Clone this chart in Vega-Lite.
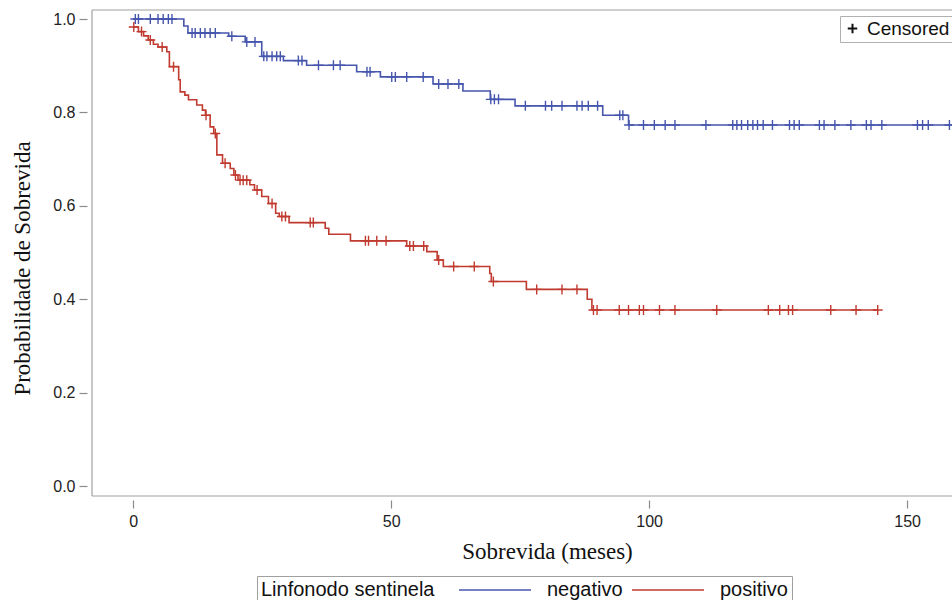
{
  "$schema": "https://vega.github.io/schema/vega-lite/v6.json",
  "width": 860,
  "height": 486,
  "autosize": {"type": "none"},
  "padding": {"left": 92, "top": 10, "right": 0, "bottom": 104},
  "background": "white",
  "config": {
    "font": "Liberation Sans",
    "view": {"stroke": null}
  },
  "datasets": {
    "frame": [{"edge": "frame"}],
    "steps": [
      {"group": "negativo", "t": 0, "s": 1},
      {"group": "negativo", "t": 9.8, "s": 0.985},
      {"group": "negativo", "t": 10.6, "s": 0.97},
      {"group": "negativo", "t": 18.5, "s": 0.963},
      {"group": "negativo", "t": 21.7, "s": 0.951},
      {"group": "negativo", "t": 24.9, "s": 0.92},
      {"group": "negativo", "t": 29.1, "s": 0.911},
      {"group": "negativo", "t": 33.6, "s": 0.901},
      {"group": "negativo", "t": 43.3, "s": 0.887},
      {"group": "negativo", "t": 47.9, "s": 0.876},
      {"group": "negativo", "t": 58.1, "s": 0.861},
      {"group": "negativo", "t": 63.9, "s": 0.846},
      {"group": "negativo", "t": 69.2, "s": 0.828},
      {"group": "negativo", "t": 74.0, "s": 0.814},
      {"group": "negativo", "t": 91.0, "s": 0.794},
      {"group": "negativo", "t": 96.0, "s": 0.773},
      {"group": "negativo", "t": 165, "s": 0.773},
      {"group": "positivo", "t": 0, "s": 0.983},
      {"group": "positivo", "t": 1.0, "s": 0.973},
      {"group": "positivo", "t": 2.0, "s": 0.964},
      {"group": "positivo", "t": 2.9, "s": 0.955},
      {"group": "positivo", "t": 3.9, "s": 0.946},
      {"group": "positivo", "t": 4.8, "s": 0.94},
      {"group": "positivo", "t": 6.5, "s": 0.93},
      {"group": "positivo", "t": 7.0, "s": 0.898},
      {"group": "positivo", "t": 8.8, "s": 0.87},
      {"group": "positivo", "t": 9.1, "s": 0.844},
      {"group": "positivo", "t": 10.0, "s": 0.837},
      {"group": "positivo", "t": 10.7, "s": 0.827},
      {"group": "positivo", "t": 12.3, "s": 0.816},
      {"group": "positivo", "t": 13.4, "s": 0.805},
      {"group": "positivo", "t": 14.0, "s": 0.794},
      {"group": "positivo", "t": 14.9, "s": 0.769},
      {"group": "positivo", "t": 15.6, "s": 0.755},
      {"group": "positivo", "t": 16.2, "s": 0.709},
      {"group": "positivo", "t": 17.3, "s": 0.691},
      {"group": "positivo", "t": 18.8, "s": 0.68},
      {"group": "positivo", "t": 19.5, "s": 0.666},
      {"group": "positivo", "t": 20.3, "s": 0.655},
      {"group": "positivo", "t": 22.6, "s": 0.645},
      {"group": "positivo", "t": 23.5, "s": 0.634},
      {"group": "positivo", "t": 24.9, "s": 0.62},
      {"group": "positivo", "t": 26.2, "s": 0.605},
      {"group": "positivo", "t": 27.6, "s": 0.584},
      {"group": "positivo", "t": 28.3, "s": 0.577},
      {"group": "positivo", "t": 30.2, "s": 0.564},
      {"group": "positivo", "t": 37.2, "s": 0.552},
      {"group": "positivo", "t": 37.9, "s": 0.539},
      {"group": "positivo", "t": 42.1, "s": 0.525},
      {"group": "positivo", "t": 53.0, "s": 0.514},
      {"group": "positivo", "t": 56.9, "s": 0.502},
      {"group": "positivo", "t": 58.9, "s": 0.484},
      {"group": "positivo", "t": 60.1, "s": 0.47},
      {"group": "positivo", "t": 69.1, "s": 0.455},
      {"group": "positivo", "t": 69.4, "s": 0.438},
      {"group": "positivo", "t": 76.2, "s": 0.421},
      {"group": "positivo", "t": 88.0, "s": 0.4},
      {"group": "positivo", "t": 88.9, "s": 0.377},
      {"group": "positivo", "t": 144.3, "s": 0.377}
    ],
    "censored": [
      {"group": "negativo", "t": 0.4, "s": 1},
      {"group": "negativo", "t": 1.0, "s": 1},
      {"group": "negativo", "t": 3.3, "s": 1},
      {"group": "negativo", "t": 4.8, "s": 1},
      {"group": "negativo", "t": 5.8, "s": 1},
      {"group": "negativo", "t": 6.8, "s": 1},
      {"group": "negativo", "t": 7.5, "s": 1},
      {"group": "negativo", "t": 11.4, "s": 0.97},
      {"group": "negativo", "t": 12.0, "s": 0.97},
      {"group": "negativo", "t": 13.0, "s": 0.97},
      {"group": "negativo", "t": 13.9, "s": 0.97},
      {"group": "negativo", "t": 14.9, "s": 0.97},
      {"group": "negativo", "t": 15.9, "s": 0.97},
      {"group": "negativo", "t": 19.1, "s": 0.963},
      {"group": "negativo", "t": 22.0, "s": 0.951},
      {"group": "negativo", "t": 23.6, "s": 0.951},
      {"group": "negativo", "t": 25.3, "s": 0.92},
      {"group": "negativo", "t": 25.9, "s": 0.92},
      {"group": "negativo", "t": 26.9, "s": 0.92},
      {"group": "negativo", "t": 27.8, "s": 0.92},
      {"group": "negativo", "t": 28.5, "s": 0.92},
      {"group": "negativo", "t": 32.0, "s": 0.911},
      {"group": "negativo", "t": 32.7, "s": 0.911},
      {"group": "negativo", "t": 35.9, "s": 0.901},
      {"group": "negativo", "t": 38.8, "s": 0.901},
      {"group": "negativo", "t": 40.1, "s": 0.901},
      {"group": "negativo", "t": 45.3, "s": 0.887},
      {"group": "negativo", "t": 45.9, "s": 0.887},
      {"group": "negativo", "t": 50.1, "s": 0.876},
      {"group": "negativo", "t": 50.8, "s": 0.876},
      {"group": "negativo", "t": 53.0, "s": 0.876},
      {"group": "negativo", "t": 56.2, "s": 0.876},
      {"group": "negativo", "t": 59.2, "s": 0.861},
      {"group": "negativo", "t": 61.0, "s": 0.861},
      {"group": "negativo", "t": 63.1, "s": 0.861},
      {"group": "negativo", "t": 69.3, "s": 0.828},
      {"group": "negativo", "t": 70.0, "s": 0.828},
      {"group": "negativo", "t": 70.8, "s": 0.828},
      {"group": "negativo", "t": 76.0, "s": 0.814},
      {"group": "negativo", "t": 79.9, "s": 0.814},
      {"group": "negativo", "t": 81.1, "s": 0.814},
      {"group": "negativo", "t": 83.1, "s": 0.814},
      {"group": "negativo", "t": 86.0, "s": 0.814},
      {"group": "negativo", "t": 87.0, "s": 0.814},
      {"group": "negativo", "t": 88.2, "s": 0.814},
      {"group": "negativo", "t": 90.0, "s": 0.814},
      {"group": "negativo", "t": 94.3, "s": 0.794},
      {"group": "negativo", "t": 94.9, "s": 0.794},
      {"group": "negativo", "t": 96.1, "s": 0.773},
      {"group": "negativo", "t": 98.9, "s": 0.773},
      {"group": "negativo", "t": 101.0, "s": 0.773},
      {"group": "negativo", "t": 103.1, "s": 0.773},
      {"group": "negativo", "t": 105.0, "s": 0.773},
      {"group": "negativo", "t": 111.0, "s": 0.773},
      {"group": "negativo", "t": 116.2, "s": 0.773},
      {"group": "negativo", "t": 117.0, "s": 0.773},
      {"group": "negativo", "t": 117.9, "s": 0.773},
      {"group": "negativo", "t": 119.1, "s": 0.773},
      {"group": "negativo", "t": 120.1, "s": 0.773},
      {"group": "negativo", "t": 121.0, "s": 0.773},
      {"group": "negativo", "t": 122.1, "s": 0.773},
      {"group": "negativo", "t": 123.9, "s": 0.773},
      {"group": "negativo", "t": 127.2, "s": 0.773},
      {"group": "negativo", "t": 128.1, "s": 0.773},
      {"group": "negativo", "t": 129.1, "s": 0.773},
      {"group": "negativo", "t": 133.0, "s": 0.773},
      {"group": "negativo", "t": 133.9, "s": 0.773},
      {"group": "negativo", "t": 136.0, "s": 0.773},
      {"group": "negativo", "t": 139.1, "s": 0.773},
      {"group": "negativo", "t": 142.1, "s": 0.773},
      {"group": "negativo", "t": 143.0, "s": 0.773},
      {"group": "negativo", "t": 145.1, "s": 0.773},
      {"group": "negativo", "t": 152.0, "s": 0.773},
      {"group": "negativo", "t": 153.0, "s": 0.773},
      {"group": "negativo", "t": 154.1, "s": 0.773},
      {"group": "negativo", "t": 158.2, "s": 0.773},
      {"group": "positivo", "t": 0.1, "s": 0.983},
      {"group": "positivo", "t": 1.6, "s": 0.973},
      {"group": "positivo", "t": 3.3, "s": 0.955},
      {"group": "positivo", "t": 5.6, "s": 0.94},
      {"group": "positivo", "t": 7.8, "s": 0.898},
      {"group": "positivo", "t": 14.1, "s": 0.794},
      {"group": "positivo", "t": 15.9, "s": 0.755},
      {"group": "positivo", "t": 17.8, "s": 0.691},
      {"group": "positivo", "t": 19.8, "s": 0.666},
      {"group": "positivo", "t": 20.7, "s": 0.655},
      {"group": "positivo", "t": 21.3, "s": 0.655},
      {"group": "positivo", "t": 22.0, "s": 0.655},
      {"group": "positivo", "t": 24.0, "s": 0.634},
      {"group": "positivo", "t": 26.9, "s": 0.605},
      {"group": "positivo", "t": 28.8, "s": 0.577},
      {"group": "positivo", "t": 29.5, "s": 0.577},
      {"group": "positivo", "t": 34.3, "s": 0.564},
      {"group": "positivo", "t": 34.9, "s": 0.564},
      {"group": "positivo", "t": 45.0, "s": 0.525},
      {"group": "positivo", "t": 45.6, "s": 0.525},
      {"group": "positivo", "t": 47.2, "s": 0.525},
      {"group": "positivo", "t": 49.0, "s": 0.525},
      {"group": "positivo", "t": 53.6, "s": 0.514},
      {"group": "positivo", "t": 54.3, "s": 0.514},
      {"group": "positivo", "t": 56.3, "s": 0.514},
      {"group": "positivo", "t": 59.2, "s": 0.484},
      {"group": "positivo", "t": 62.1, "s": 0.47},
      {"group": "positivo", "t": 66.1, "s": 0.47},
      {"group": "positivo", "t": 69.8, "s": 0.438},
      {"group": "positivo", "t": 78.2, "s": 0.421},
      {"group": "positivo", "t": 83.1, "s": 0.421},
      {"group": "positivo", "t": 86.0, "s": 0.421},
      {"group": "positivo", "t": 89.2, "s": 0.377},
      {"group": "positivo", "t": 89.9, "s": 0.377},
      {"group": "positivo", "t": 94.2, "s": 0.377},
      {"group": "positivo", "t": 96.0, "s": 0.377},
      {"group": "positivo", "t": 98.1, "s": 0.377},
      {"group": "positivo", "t": 98.9, "s": 0.377},
      {"group": "positivo", "t": 102.0, "s": 0.377},
      {"group": "positivo", "t": 105.0, "s": 0.377},
      {"group": "positivo", "t": 113.1, "s": 0.377},
      {"group": "positivo", "t": 123.1, "s": 0.377},
      {"group": "positivo", "t": 125.3, "s": 0.377},
      {"group": "positivo", "t": 127.0, "s": 0.377},
      {"group": "positivo", "t": 127.8, "s": 0.377},
      {"group": "positivo", "t": 135.2, "s": 0.377},
      {"group": "positivo", "t": 140.1, "s": 0.377},
      {"group": "positivo", "t": 144.3, "s": 0.377}
    ]
  },
  "layer": [
    {
      "data": {"name": "frame"},
      "mark": {"type": "rule", "color": "#a0a0a0", "strokeWidth": 1.2},
      "encoding": {"y": {"datum": 1.0193, "type": "quantitative"}}
    },
    {
      "data": {"name": "frame"},
      "mark": {"type": "rule", "color": "#a0a0a0", "strokeWidth": 1.2},
      "encoding": {"y": {"datum": -0.0214, "type": "quantitative"}}
    },
    {
      "data": {"name": "frame"},
      "mark": {"type": "rule", "color": "#a0a0a0", "strokeWidth": 1.2},
      "encoding": {"x": {"datum": -8, "type": "quantitative"}}
    },
    {
      "data": {"name": "steps"},
      "mark": {"type": "line", "interpolate": "step-after", "strokeWidth": 1.6, "clip": true},
      "encoding": {
        "x": {
          "field": "t", "type": "quantitative",
          "scale": {"domain": [-8, 158.7], "nice": false, "zero": false},
          "axis": {
            "values": [0, 50, 100, 150], "domain": false, "grid": false,
            "offset": 4, "tickSize": 8, "tickColor": "#8a8a8a", "tickWidth": 1.2,
            "labelFont": "Liberation Sans", "labelFontSize": 16, "labelColor": "#222", "labelPadding": 5,
            "title": "Sobrevida (meses)", "titleFont": "Liberation Serif", "titleFontSize": 23,
            "titleFontWeight": "normal", "titleColor": "#111",
            "titleX": 455, "titleY": 51, "titleBaseline": "middle", "titleAlign": "center"
          }
        },
        "y": {
          "field": "s", "type": "quantitative",
          "scale": {"domain": [-0.0214, 1.0193], "nice": false, "zero": false},
          "axis": {
            "values": [0, 0.2, 0.4, 0.6, 0.8, 1.0], "format": ".1f", "domain": false, "grid": false,
            "offset": 5, "tickSize": 8, "tickColor": "#8a8a8a", "tickWidth": 1.2,
            "labelFont": "Liberation Sans", "labelFontSize": 16, "labelColor": "#222", "labelPadding": 4,
            "title": "Probabilidade de Sobrevida", "titleFont": "Liberation Serif", "titleFontSize": 23,
            "titleFontWeight": "normal", "titleColor": "#111",
            "titleX": -65, "titleY": 258, "titleAngle": -90, "titleBaseline": "middle", "titleAlign": "center"
          }
        },
        "color": {
          "field": "group", "type": "nominal",
          "scale": {"domain": ["negativo", "positivo"], "range": ["#4656ad", "#c03a2f"]},
          "legend": {
            "orient": "none", "legendX": 165, "legendY": 566, "direction": "horizontal",
            "title": "Linfonodo sentinela", "titleOrient": "left", "titleFont": "Liberation Sans",
            "titleFontSize": 20, "titleFontWeight": "normal", "titleColor": "#111", "titlePadding": 50,
            "labelFont": "Liberation Sans", "labelFontSize": 20, "labelColor": "#111",
            "symbolType": "M-4,0L4,0", "symbolSize": 324, "symbolStrokeWidth": 1.6,
            "labelOffset": 42, "columnPadding": 5,
            "strokeColor": "#a0a0a0", "fillColor": "white", "padding": 4
          }
        }
      }
    },
    {
      "data": {"name": "censored"},
      "mark": {"type": "point", "filled": false, "strokeWidth": 1.4, "size": 100, "opacity": 1, "clip": true},
      "encoding": {
        "x": {"field": "t", "type": "quantitative"},
        "y": {"field": "s", "type": "quantitative"},
        "stroke": {
          "field": "group", "type": "nominal",
          "scale": {"domain": ["negativo", "positivo"], "range": ["#4656ad", "#c03a2f"]},
          "legend": null
        },
        "shape": {
          "datum": "Censored",
          "scale": {"range": ["M-1,0L1,0M0,-1L0,1"]},
          "legend": {
            "orient": "none", "legendX": 748, "legendY": 6, "title": null,
            "labelFont": "Liberation Sans", "labelFontSize": 19, "labelColor": "#111",
            "symbolStrokeColor": "#111", "symbolStrokeWidth": 2, "symbolSize": 90,
            "symbolFillColor": "transparent", "labelOffset": 5,
            "strokeColor": "#b0b0b0", "fillColor": "white", "padding": 3
          }
        }
      }
    }
  ]
}
